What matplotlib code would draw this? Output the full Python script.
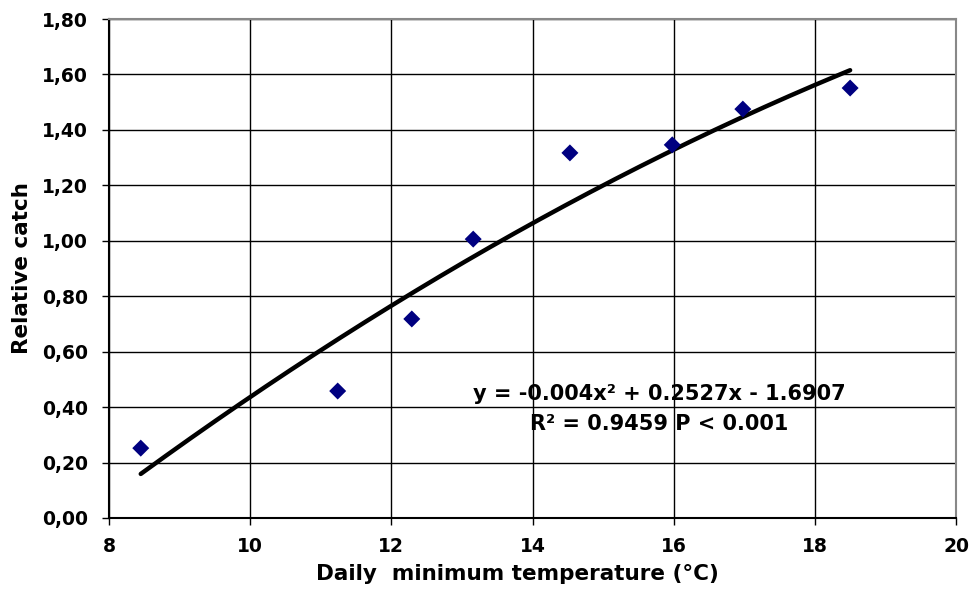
import matplotlib
matplotlib.use("Agg")
import matplotlib.pyplot as plt
import numpy as np
from matplotlib.ticker import FuncFormatter

temp_c = [8.45, 11.24, 12.29, 13.16, 14.53, 15.98, 16.98, 18.50]
rel_catch = [0.252, 0.458, 0.718, 1.006, 1.317, 1.346, 1.475, 1.551]

# quadratic trendline as printed on the chart
coef = [-0.004, 0.2527, -1.6907]
eq_text = "y = -0.004x\u00b2 + 0.2527x - 1.6907"
r2_text = "R\u00b2 = 0.9459 P < 0.001"

x_ticks = [8, 10, 12, 14, 16, 18, 20]
y_ticks = [0.0, 0.2, 0.4, 0.6, 0.8, 1.0, 1.2, 1.4, 1.6, 1.8]

# the reference text is wide, DejaVu bold is closer than Arial-like fonts
plt.rcParams["font.family"] = ["DejaVu Sans"]
plt.rcParams["font.weight"] = "bold"

fig = plt.figure(figsize=(9.71, 5.91), dpi=100)
ax = fig.add_axes([109 / 971, 1 - 518 / 591, (956 - 109) / 971, (518 - 19) / 591])

xs = np.linspace(min(temp_c), max(temp_c), 200)
ax.plot(xs, np.polyval(coef, xs), color="black", lw=3.2, solid_capstyle="round", zorder=3)
ax.scatter(temp_c, rel_catch, marker="D", s=75, color="#000080", edgecolors="none", zorder=4)

ax.set_xlim(8, 20)
ax.set_ylim(0, 1.8)
ax.set_xticks(x_ticks)
ax.set_yticks(y_ticks)
ax.yaxis.set_major_formatter(FuncFormatter(lambda v, _: f"{v:.2f}".replace(".", ",")))
ax.grid(True, color="black", lw=1.0)
ax.set_axisbelow(True)
ax.tick_params(axis="y", labelsize=13.5, length=5, width=1, direction="out", pad=10)
ax.tick_params(axis="x", labelsize=13.5, length=5, width=1, direction="out", pad=9)
for lab in ax.get_xticklabels() + ax.get_yticklabels():
    lab.set_fontweight("bold")

for side in ("left", "bottom"):
    ax.spines[side].set_color("black")
    ax.spines[side].set_linewidth(1.5)
for side in ("top", "right"):
    ax.spines[side].set_color("#888888")
    ax.spines[side].set_linewidth(1.5)

ax.set_xlabel("Daily  minimum temperature (\u00b0C)", fontsize=15.5, fontweight="bold")
ax.set_ylabel("Relative catch", fontsize=15.5, fontweight="bold", labelpad=7)
ax.xaxis.set_label_coords(0.482, -0.092)

ax.text(15.79, 0.447, eq_text, ha="center", va="center", fontsize=15, fontweight="bold")
ax.text(15.79, 0.339, r2_text, ha="center", va="center", fontsize=15, fontweight="bold")

fig.savefig("out.png", dpi=100)
